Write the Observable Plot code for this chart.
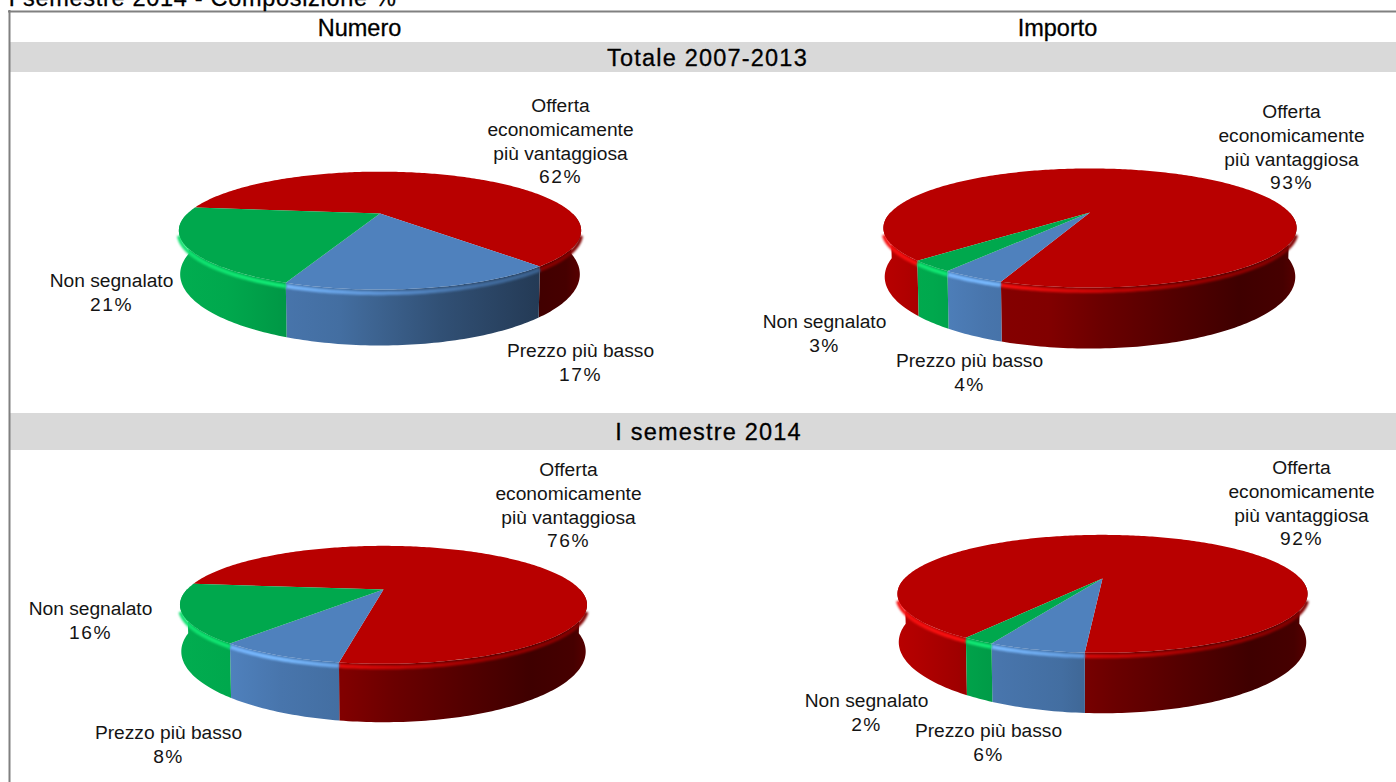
<!DOCTYPE html>
<html lang="it">
<head>
<meta charset="utf-8">
<title>Composizione % - I semestre 2014</title>
<script src="https://cdn.jsdelivr.net/npm/d3@7"></script>
<script src="https://cdn.jsdelivr.net/npm/@observablehq/plot@0.6"></script>
<style>
  html, body { margin: 0; padding: 0; background: #fff; overflow: hidden; }
  svg { display: block; }
  .wide-title text { letter-spacing: 0.7px; }
  .wide-row text { letter-spacing: 1.2px; }
  .wide-pct text { letter-spacing: 1.5px; }
</style>
</head>
<body>
<div id="chart"></div>
<script>
// Award criteria, clockwise in the order they are stacked on each pie
const criteria = ["Offerta\neconomicamente\npiù vantaggiosa", "Prezzo più basso", "Non segnalato"];

// Shares in percent
const numeroTotale = [62, 17, 21];
const importoTotale = [93, 4, 3];
const numeroSemestre = [76, 8, 16];
const importoSemestre = [92, 6, 2];

const columnHeads = ["Numero", "Importo"];
const rowHeads = ["Totale 2007-2013", "I semestre 2014"];
const pageTitle = "I semestre 2014 - Composizione %";

const baseColors = ["#b80000", "#4f81bd", "#00a84d"];

// Wall shading against horizontal position on the pie (-1 left edge, 1 right edge)
const blueGreenLight = [[-1, 1.02], [-0.76, 1], [-0.5, 0.91], [-0.2, 0.85], [-0.05, 0.78], [0.3, 0.62], [0.8, 0.45], [0.93, 0.42], [1, 0.5]];
const redLight = [[-1, 1], [-0.9, 0.96], [-0.4, 0.72], [-0.2, 0.7], [0.05, 0.58], [0.4, 0.45], [0.72, 0.34], [0.93, 0.38], [1, 0.48]];
const rimLight = [[-1, 1.25], [-0.5, 1.3], [0, 1.1], [0.5, 0.85], [1, 0.7]];

// Placement of each pie: apex, radius, tilt, first-slice angle, and label anchors
const pies = [
  {values: numeroTotale, cx: 379.5, cy: 213, R: 192.5, Ry: 54, tilt: 0.29, depth: 40.5, start: 276.5, labels: [[560, 95], [580, 340], [111, 270]]},
  {values: importoTotale, cx: 1089.5, cy: 212, R: 199.5, Ry: 55.5, tilt: 0.26, depth: 46, start: 224.9, labels: [[1291, 101], [969, 350], [824, 311]]},
  {values: numeroSemestre, cx: 383, cy: 589, R: 196.5, Ry: 55, tilt: 0.26, depth: 44, start: 276.1, labels: [[568, 459], [168, 722], [90, 598]]},
  {values: importoSemestre, cx: 1102, cy: 578, R: 198, Ry: 55, tilt: 0.26, depth: 45.5, start: 212.6, labels: [[1301, 457], [988, 720], [866, 690]]}
];
const bottomShrink = 0.006;
const lineStep = 23.7;

// Perspective view of a point on the disc at angle deg (clockwise from the far side), z below the top face
function project(p, deg, z) {
  const a = deg * Math.PI / 180, u = Math.sin(a), v = -Math.cos(a);
  const s = 1 / (1 - p.tilt * v + bottomShrink * z / p.depth);
  return {x: p.cx + p.R * u * s, y: p.cy + (p.Ry * v + z) * s};
}

function arc(p, a0, a1, z) {
  const n = Math.max(1, Math.ceil(Math.abs(a1 - a0)));
  return d3.range(n + 1).map(i => project(p, a0 + (a1 - a0) * i / n, z));
}

// The part of a slice's outer edge on the viewer's side of the pie; margin trims both ends of that side
function nearRanges(a0, a1, margin = 0) {
  const out = [];
  for (const k of [0, 360]) {
    const lo = Math.max(a0, 90 + margin + k), hi = Math.min(a1, 270 - margin + k);
    if (hi > lo) out.push([lo, hi]);
  }
  return out;
}

function gradientId(kind, i, j) { return `${kind}-${i}-${j}`; }

function shadeStops(color, light) {
  const c = d3.rgb(color);
  const lit = (ch, b) => Math.min(255, ch * b + (b > 1 ? 60 * (b - 1) : 0));
  return light.map(([t, b]) => ({
    offset: (t + 1) / 2,
    color: d3.rgb(lit(c.r, b), lit(c.g, b), lit(c.b, b)).formatHex()
  }));
}

// Horizontal gradients for the walls and rims, one per pie and colour
function gradients(index, {x}) {
  const defs = d3.create("svg:defs");
  pies.forEach((p, i) => {
    const half = p.R * 1.04;
    baseColors.forEach((color, j) => {
      for (const [kind, light] of [["wall", j === 0 ? redLight : blueGreenLight], ["rim", rimLight]]) {
        const g = defs.append("linearGradient")
          .attr("id", gradientId(kind, i, j))
          .attr("gradientUnits", "userSpaceOnUse")
          .attr("x1", x(p.cx - half)).attr("x2", x(p.cx + half))
          .attr("y1", 0).attr("y2", 0);
        for (const s of shadeStops(color, light)) {
          g.append("stop").attr("offset", s.offset).attr("stop-color", s.color);
        }
      }
    });
  });
  return defs.node();
}

const pieMarks = pies.flatMap((p, i) => {
  const total = d3.sum(p.values);
  let a = p.start;
  const slices = p.values.map((value, j) => {
    const a0 = a, a1 = a + value / total * 360;
    a = a1;
    return {j, a0, a1};
  });
  const walls = [], rims = [], faces = [];
  for (const {j, a0, a1} of slices) {
    for (const [lo, hi] of nearRanges(a0, a1)) {
      walls.push(Plot.line([...arc(p, lo, hi, 0), ...arc(p, hi, lo, p.depth)], {
        x: "x", y: "y", fill: `url(#${gradientId("wall", i, j)})`, stroke: "none"
      }));
    }
    for (const [lo, hi] of nearRanges(a0, a1, 19)) {
      rims.push(Plot.line(arc(p, lo, hi, 2.6), {
        x: "x", y: "y", stroke: `url(#${gradientId("rim", i, j)})`, strokeWidth: 4, strokeLinecap: "butt", imageFilter: "blur(1px)"
      }));
    }
    faces.push(Plot.line([{x: p.cx, y: p.cy}, ...arc(p, a0, a1, 0), {x: p.cx, y: p.cy}], {
      x: "x", y: "y", fill: baseColors[j], stroke: "none"
    }));
  }
  return [...walls, ...rims, ...faces];
});

// Category names and their percentages; the percentage sits on the line after the name
const nameRows = pies.flatMap(p => p.values.map((value, j) => ({
  x: p.labels[j][0], y: p.labels[j][1], text: criteria[j]
})));
const percentRows = pies.flatMap(p => p.values.map((value, j) => ({
  x: p.labels[j][0],
  y: p.labels[j][1] + criteria[j].split("\n").length * lineStep,
  text: `${value}%`
})));

const columnRows = [{x: 359, y: 28, text: columnHeads[0]}, {x: 1057, y: 28, text: columnHeads[1]}];
const sectionRows = [{x: 707, y: 58, text: rowHeads[0]}, {x: 708, y: 432, text: rowHeads[1]}];
const bands = [{y1: 42, y2: 72}, {y1: 413, y2: 450}];

const fontFamily = "'Liberation Sans', Arial, sans-serif";
const headStyle = {fontSize: 23.5, fill: "#000", stroke: "#000", strokeWidth: 0.3};
const labelStyle = {lineAnchor: "top", lineHeight: lineStep / 19.2, fontSize: 19.2, fill: "#141414"};

const chart = Plot.plot({
  width: 1396,
  height: 782,
  margin: 0,
  x: {domain: [0, 1396], range: [0, 1396], axis: null},
  y: {domain: [0, 782], range: [0, 782], axis: null},
  style: {background: "#fff", fontFamily},
  marks: [
    gradients,
    Plot.rect(bands, {x1: () => 10, x2: () => 1396, y1: "y1", y2: "y2", fill: "#d9d9d9"}),
    Plot.ruleX([9], {y1: 10, y2: 782, stroke: "#808080", strokeWidth: 2}),
    Plot.ruleY([11], {x1: 8, x2: 1396, stroke: "#808080", strokeWidth: 2}),
    ...pieMarks,
    Plot.text([pageTitle], {
      x: () => 8, y: () => 5, text: d => d, textAnchor: "start", lineAnchor: "bottom",
      className: "wide-title", ...headStyle
    }),
    Plot.text(columnRows, {x: "x", y: "y", text: "text", ...headStyle}),
    Plot.text(sectionRows, {x: "x", y: "y", text: "text", className: "wide-row", ...headStyle}),
    Plot.text(nameRows, {x: "x", y: "y", text: "text", ...labelStyle}),
    Plot.text(percentRows, {x: "x", y: "y", text: "text", className: "wide-pct", ...labelStyle})
  ]
});
document.getElementById("chart").append(chart);
</script>
</body>
</html>
